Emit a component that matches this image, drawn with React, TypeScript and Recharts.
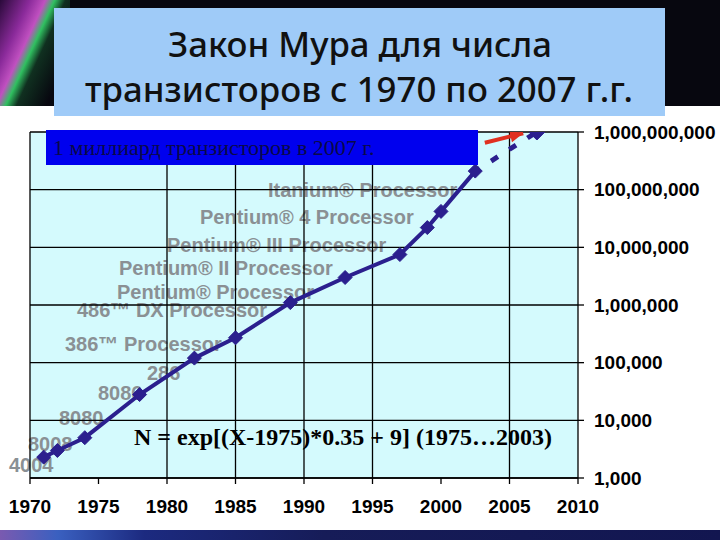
import React from 'react';
import { LineChart, Line, XAxis, YAxis, CartesianGrid, ReferenceLine } from 'recharts';

// ---- data ----
const chipNames = [
  '4004', '8008', '8080', '8086', '286', '386™ Processor', '486™ DX Processor',
  'Pentium® Processor', 'Pentium® II Processor', 'Pentium® III Processor',
  'Pentium® 4 Processor', 'Itanium® Processor',
];
const chipYears = [1971, 1972, 1974, 1978, 1982, 1985, 1989, 1993, 1997, 1999, 2000, 2002.5];
const chipTransistors = [
  2300, 3000, 5000, 28000, 120000, 270000, 1100000, 3000000, 7500000, 22000000, 42000000, 210000000,
];
const projectionYears = [2002.5, 2007];
const projectionTransistors = [210000000, 1000000000];
const arrowYears = [2003.2, 2006.0];
const arrowTransistors = [650000000, 950000000];
const yearTicks = [1970, 1975, 1980, 1985, 1990, 1995, 2000, 2005, 2010];
const countTicks = [1e3, 1e4, 1e5, 1e6, 1e7, 1e8, 1e9];
const gridYears = [1970, 1980, 1985, 1990, 1995, 2005];

const titleLines = ['Закон Мура для числа', 'транзисторов с 1970 по 2007 г.г.'];
const boxText = '1 миллиард транзисторов в 2007 г.';
const formulaText = 'N = exp[(X-1975)*0.35 + 9] (1975…2003)';

const mainData = chipYears.map((year, i) => ({ year, value: chipTransistors[i] }));
const projData = projectionYears.map((year, i) => ({ year, value: projectionTransistors[i] }));
const arrowData = arrowYears.map((year, i) => ({ year, value: arrowTransistors[i] }));

// label layout (left x, centre y) in the same order as chipNames
const labelLayout = [
  [9, 465], [28, 444], [59, 418], [98, 393], [147, 373], [65, 344], [77, 310],
  [117, 292], [119, 268], [167, 245], [200, 217], [268, 190],
];

const LINE = '#2b1f8e';
const RED = '#e03020';

const Diamond = (props: any) => {
  const { cx, cy, index } = props;
  if (cx == null || cy == null) return <g key={`d-${index}`} />;
  const r = 7;
  return (
    <polygon
      key={`d-${index}`}
      points={`${cx},${cy - r} ${cx + r},${cy} ${cx},${cy + r} ${cx - r},${cy}`}
      fill={LINE}
      stroke={LINE}
      strokeWidth={1}
    />
  );
};

const EndDiamond = (props: any) => {
  const { cx, cy, index } = props;
  if (index !== 1 || cx == null) return <g key={`e-${index}`} />;
  const r = 8;
  return (
    <polygon
      key={`e-${index}`}
      points={`${cx},${cy - r} ${cx + r},${cy} ${cx},${cy + r} ${cx - r},${cy}`}
      fill={LINE}
      stroke={LINE}
      strokeWidth={1}
    />
  );
};

const ArrowHead = (props: any) => {
  const { cx, cy, index, points } = props;
  if (index !== 1 || cx == null) return <g key={`a-${index}`} />;
  let ang = -0.26;
  if (points && points.length > 1 && points[0].x != null) {
    ang = Math.atan2(points[1].y - points[0].y, points[1].x - points[0].x);
  }
  const len = 13;
  const hw = 6;
  const bx = cx - len * Math.cos(ang);
  const by = cy - len * Math.sin(ang);
  const px = -Math.sin(ang) * hw;
  const py = Math.cos(ang) * hw;
  return (
    <polygon
      key={`a-${index}`}
      points={`${cx},${cy} ${bx + px},${by + py} ${bx - px},${by - py}`}
      fill={RED}
    />
  );
};

const tickStyle = { fontFamily: '"Liberation Sans", Arial, sans-serif', fontWeight: 700, fontSize: 19, fill: '#000' };

export default function App() {
  return (
    <div style={{ position: 'absolute', left: 0, top: 0, width: 720, height: 540, overflow: 'hidden', background: '#fff' }}>
      {/* top dark band */}
      <div style={{ position: 'absolute', left: 0, top: 0, width: 720, height: 106, background: '#07070f' }} />
      <div style={{ position: 'absolute', left: 0, top: 0, width: 70, height: 106,
        background: 'linear-gradient(115deg, #2a0a3a 0%, #8a2a9a 25%, #c050c0 38%, #30c060 46%, #103020 55%, #07070f 80%)' }} />
      {/* bottom strip */}
      <div style={{ position: 'absolute', left: 0, top: 530, width: 720, height: 10,
        background: 'linear-gradient(to right, #7a5ab0 0%, #3a60c0 8%, #1c2a80 20%, #161c58 45%, #121650 100%)' }} />
      {/* plot background */}
      <div style={{ position: 'absolute', left: 30, top: 132, width: 548, height: 346, background: '#d4fafd' }} />
      {/* processor labels */}
      {chipNames.map((name, i) => (
        <div key={name} style={{
          position: 'absolute', left: labelLayout[i][0], top: labelLayout[i][1] - 10,
          fontFamily: '"Liberation Sans", Arial, sans-serif', fontWeight: 700, fontSize: 20, lineHeight: '20px',
          color: '#8a9094', whiteSpace: 'nowrap',
        }}>{name}</div>
      ))}
      <div style={{ position: 'absolute', left: 0, top: 0 }}>
        <LineChart width={720} height={540} data={mainData} margin={{ top: 132, left: 30, right: 12, bottom: 22 }}>
          <CartesianGrid vertical={false} stroke="#000" strokeWidth={1.3} />
          {gridYears.map((yr) => (
            <ReferenceLine key={yr} x={yr} stroke="#000" strokeWidth={1.3} />
          ))}
          <XAxis
            dataKey="year"
            type="number"
            domain={[1970, 2010]}
            ticks={yearTicks}
            allowDataOverflow
            tickSize={6}
            tickMargin={16}
            height={40}
            axisLine={{ stroke: '#000', strokeWidth: 1.3 }}
            tickLine={{ stroke: '#000', strokeWidth: 1.3 }}
            tick={tickStyle}
          />
          <YAxis
            orientation="right"
            type="number"
            scale="log"
            domain={[1000, 1000000000]}
            ticks={countTicks}
            allowDataOverflow
            width={130}
            tickSize={6}
            tickMargin={10}
            axisLine={{ stroke: '#000', strokeWidth: 1.3 }}
            tickLine={{ stroke: '#000', strokeWidth: 1.3 }}
            tick={tickStyle}
            tickFormatter={(v: number) => v.toLocaleString('en-US')}
          />
          <Line
            data={projData}
            dataKey="value"
            stroke={LINE}
            strokeWidth={5}
            strokeDasharray="8 13.5"
            strokeDashoffset={2.7}
            dot={EndDiamond}
            activeDot={false}
            isAnimationActive={false}
          />
          <Line
            data={arrowData}
            dataKey="value"
            stroke={RED}
            strokeWidth={4}
            dot={ArrowHead}
            activeDot={false}
            isAnimationActive={false}
          />
          <Line
            data={mainData}
            dataKey="value"
            stroke={LINE}
            strokeWidth={4}
            dot={Diamond}
            activeDot={false}
            isAnimationActive={false}
          />
        </LineChart>
      </div>
      {/* blue annotation box */}
      <div style={{ position: 'absolute', left: 46, top: 130, width: 432, height: 35, background: '#0000ee' }} />
      <div style={{
        position: 'absolute', left: 53, top: 130, height: 35, lineHeight: '35px',
        fontFamily: '"Liberation Serif", "Times New Roman", serif', fontSize: 22, color: '#0a0a48', whiteSpace: 'nowrap',
      }}>{boxText}</div>
      {/* formula */}
      <div style={{
        position: 'absolute', left: 134, top: 437 - 14, height: 28, lineHeight: '28px',
        fontFamily: '"Liberation Serif", "Times New Roman", serif', fontWeight: 700, fontSize: 24, color: '#000', whiteSpace: 'nowrap',
      }}>{formulaText}</div>
      {/* title */}
      <div style={{ position: 'absolute', left: 54, top: 8, width: 611, height: 108, background: '#9fcbf8' }} />
      <svg width={720} height={120} style={{ position: 'absolute', left: 0, top: 0 }}>
        <text x={360} y={57} textAnchor="middle" textLength={384} lengthAdjust="spacingAndGlyphs"
          style={{ fontFamily: '"Noto Sans", "Open Sans", sans-serif', fontSize: 34, fontWeight: 500, fill: '#111' }}>{titleLines[0]}</text>
        <text x={359} y={102} textAnchor="middle" textLength={548} lengthAdjust="spacingAndGlyphs"
          style={{ fontFamily: '"Noto Sans", "Open Sans", sans-serif', fontSize: 34, fontWeight: 500, fill: '#111' }}>{titleLines[1]}</text>
      </svg>
    </div>
  );
}
